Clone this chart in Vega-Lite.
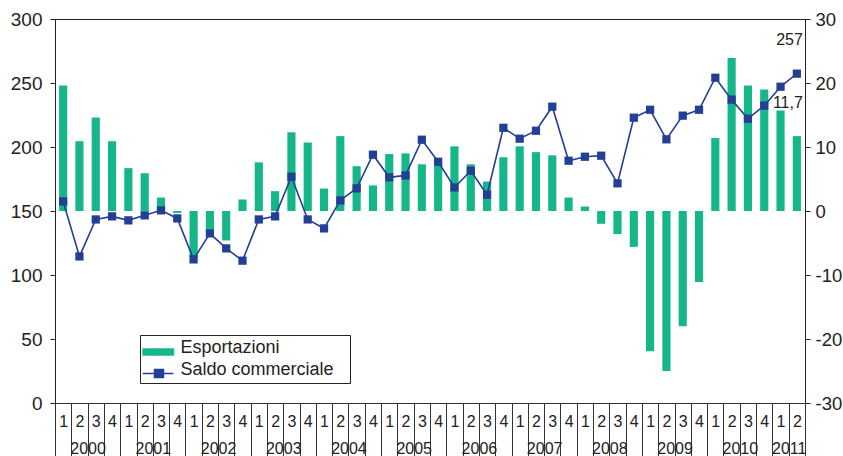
{
  "$schema": "https://vega.github.io/schema/vega-lite/v6.json",
  "width": 750,
  "height": 384,
  "autosize": {"type": "none"},
  "padding": {"left": 55, "top": 19, "right": 38, "bottom": 53},
  "background": "white",
  "data": {"values": [
    {"q":"2000-1","exp":19.6,"saldo":157.5},
    {"q":"2000-2","exp":10.9,"saldo":114.5},
    {"q":"2000-3","exp":14.6,"saldo":143.4},
    {"q":"2000-4","exp":10.9,"saldo":145.8},
    {"q":"2001-1","exp":6.7,"saldo":142.7},
    {"q":"2001-2","exp":5.9,"saldo":146.6},
    {"q":"2001-3","exp":2.1,"saldo":150.5},
    {"q":"2001-4","exp":-0.3,"saldo":144.2},
    {"q":"2002-1","exp":-7.2,"saldo":112.2},
    {"q":"2002-2","exp":-3.0,"saldo":132.5},
    {"q":"2002-3","exp":-4.6,"saldo":120.8},
    {"q":"2002-4","exp":1.8,"saldo":111.2},
    {"q":"2003-1","exp":7.6,"saldo":143.4},
    {"q":"2003-2","exp":3.1,"saldo":145.8},
    {"q":"2003-3","exp":12.3,"saldo":176.8},
    {"q":"2003-4","exp":10.7,"saldo":143.4},
    {"q":"2004-1","exp":3.5,"saldo":136.4},
    {"q":"2004-2","exp":11.7,"saldo":158.3},
    {"q":"2004-3","exp":7.0,"saldo":167.7},
    {"q":"2004-4","exp":4.0,"saldo":194.0},
    {"q":"2005-1","exp":8.9,"saldo":176.3},
    {"q":"2005-2","exp":9.0,"saldo":177.8},
    {"q":"2005-3","exp":7.3,"saldo":205.7},
    {"q":"2005-4","exp":7.3,"saldo":188.5},
    {"q":"2006-1","exp":10.1,"saldo":168.4},
    {"q":"2006-2","exp":7.3,"saldo":181.5},
    {"q":"2006-3","exp":4.6,"saldo":162.7},
    {"q":"2006-4","exp":8.4,"saldo":215.0},
    {"q":"2007-1","exp":10.1,"saldo":206.5},
    {"q":"2007-2","exp":9.2,"saldo":212.7},
    {"q":"2007-3","exp":8.7,"saldo":231.5},
    {"q":"2007-4","exp":2.1,"saldo":189.3},
    {"q":"2008-1","exp":0.7,"saldo":192.4},
    {"q":"2008-2","exp":-2.0,"saldo":193.2},
    {"q":"2008-3","exp":-3.6,"saldo":171.6},
    {"q":"2008-4","exp":-5.6,"saldo":222.9},
    {"q":"2009-1","exp":-21.9,"saldo":229.1},
    {"q":"2009-2","exp":-25.0,"saldo":206.0},
    {"q":"2009-3","exp":-18.0,"saldo":224.5},
    {"q":"2009-4","exp":-11.1,"saldo":229.1},
    {"q":"2010-1","exp":11.4,"saldo":254.1},
    {"q":"2010-2","exp":23.9,"saldo":237.0},
    {"q":"2010-3","exp":19.6,"saldo":222.1},
    {"q":"2010-4","exp":19.0,"saldo":232.3},
    {"q":"2011-1","exp":15.7,"saldo":247.1},
    {"q":"2011-2","exp":11.7,"saldo":257.3}
  ]},
  "layer": [
    {
      "encoding": {
        "x": {
          "field": "q", "type": "ordinal", "sort": null,
          "scale": {"paddingInner": 0, "paddingOuter": 0},
          "axis": {
            "orient": "bottom", "title": null, "tickBand": "extent", "tickSize": 28,
            "tickColor": "#333", "domainColor": "#333", "labelAngle": 0,
            "labelExpr": "isString(datum.value) ? slice(datum.value, 5) : ''", "labelPadding": -18,
            "labelFont": "Liberation Sans", "labelFontSize": 16, "labelColor": "#222",
            "labelOverlap": false, "grid": false
          }
        },
        "y": {
          "field": "exp", "type": "quantitative",
          "scale": {"domain": [-30, 30], "nice": false, "zero": false},
          "axis": {
            "orient": "right", "title": null, "values": [-30, -20, -10, 0, 10, 20, 30],
            "format": "d", "tickSize": 5, "labelPadding": 5, "grid": false,
            "tickColor": "#222", "domainColor": "#222", "labelColor": "#222",
            "labelFont": "Liberation Sans", "labelFontSize": 18.5
          }
        }
      },
      "layer": [
        {
          "mark": {"type": "bar", "width": {"band": 0.5}},
          "encoding": {
            "color": {
              "datum": "Esportazioni",
              "scale": {"domain": ["Esportazioni", "Saldo commerciale"], "range": ["#16b68b", "#233f95"]},
              "legend": {
                "orient": "none", "legendX": 85, "legendY": 316, "title": null,
                "padding": 2.5, "strokeColor": "#222", "fillColor": "white",
                "symbolSize": 324, "labelOffset": 18, "rowPadding": 0.5, "clipHeight": 21,
                "labelFont": "Liberation Sans", "labelFontSize": 18, "labelColor": "#222",
                "labelLimit": 400, "labelExpr": "datum.label + '\u2800'",
                "encode": {
                  "symbols": {
                    "update": {
                      "shape": {"signal": "datum.value === 'Esportazioni' ? 'M-1.11,0.11H2.33V0.78H-1.11Z' : 'M-1.11,0.44H2.33M0.22,0H1.22V0.9H0.22Z'"},
                      "fill": {"signal": "datum.value === 'Esportazioni' ? '#16b68b' : '#233f95'"},
                      "stroke": {"signal": "datum.value === 'Esportazioni' ? '#16b68b' : '#233f95'"},
                      "strokeWidth": {"value": 1.5},
                      "opacity": {"value": 1},
                      "fillOpacity": {"value": 1},
                      "strokeOpacity": {"value": 1}
                    }
                  }
                }
              }
            }
          }
        },
        {
          "transform": [{"filter": "datum.q == '2011-2'"}],
          "mark": {"type": "text", "align": "right", "baseline": "alphabetic", "dx": 6, "dy": -28,
                   "font": "Liberation Sans", "fontSize": 16, "color": "#222"},
          "encoding": {"text": {"field": "exp", "type": "quantitative", "format": ".1f"}}
        }
      ]
    },
    {
      "encoding": {
        "x": {
          "field": "q", "type": "ordinal", "sort": null,
          "scale": {"paddingInner": 0, "paddingOuter": 0},
          "axis": {
            "orient": "bottom", "title": null, "tickBand": "extent", "tickSize": 53,
            "domain": false, "tickColor": "#333", "labelAngle": 0,
            "labelExpr": "isString(datum.value) && ((slice(datum.value, 5) == '2' && slice(datum.value, 0, 4) != '2011') || datum.value == '2011-1') ? slice(datum.value, 0, 4) : ''",
            "labelOffset": 8.15, "labelPadding": -15.5,
            "labelFont": "Liberation Sans", "labelFontSize": 16, "labelColor": "#222",
            "labelOverlap": false, "grid": false,
            "encode": {
              "ticks": {
                "update": {
                  "strokeOpacity": {"signal": "datum.extra ? 1 : (isString(datum.value) && (slice(datum.value, 5) == '4' || datum.value == '2011-2') ? 1 : 0)"}
                }
              }
            }
          }
        },
        "y": {
          "field": "saldo", "type": "quantitative",
          "scale": {"domain": [0, 300], "nice": false},
          "axis": {
            "orient": "left", "title": null, "values": [0, 50, 100, 150, 200, 250, 300],
            "format": "d", "tickSize": 5, "labelPadding": 8, "grid": false,
            "tickColor": "#222", "domainColor": "#222", "labelColor": "#222",
            "labelFont": "Liberation Sans", "labelFontSize": 19
          }
        }
      },
      "layer": [
        {
          "mark": {"type": "line", "strokeWidth": 1.6,
                   "point": {"shape": "square", "size": 68, "filled": true, "opacity": 1}},
          "encoding": {"color": {"datum": "Saldo commerciale"}}
        },
        {
          "transform": [{"filter": "datum.q == '2011-2'"}],
          "mark": {"type": "text", "align": "right", "baseline": "alphabetic", "dx": 6, "dy": -29,
                   "font": "Liberation Sans", "fontSize": 16, "color": "#222"},
          "encoding": {"text": {"field": "saldo", "type": "quantitative", "format": ".0f"}}
        }
      ]
    }
  ],
  "resolve": {"scale": {"y": "independent"}, "axis": {"x": "independent", "y": "independent"}},
  "config": {
    "locale": {"number": {"decimal": ",", "thousands": ".", "grouping": [3], "currency": ["", " €"], "minus": "-"}},
    "view": {"stroke": "#222", "strokeWidth": 1},
    "font": "Liberation Sans"
  }
}
